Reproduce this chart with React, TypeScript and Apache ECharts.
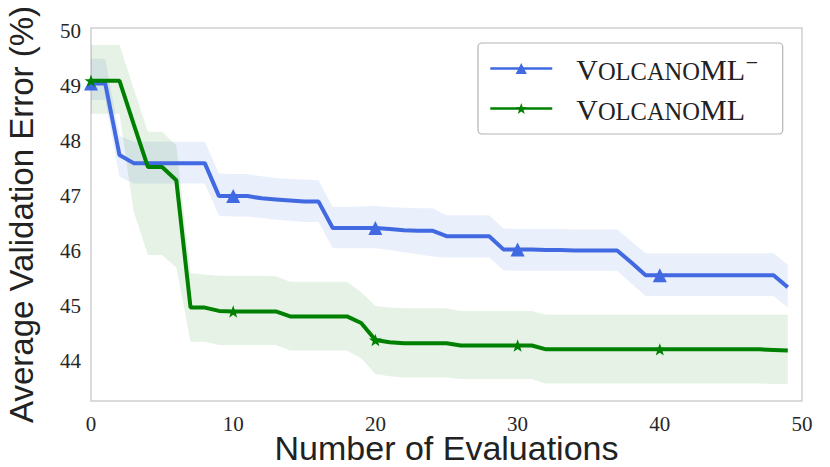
import React, { useEffect, useRef } from "react";
import * as echarts from "echarts";

const evaluations = [
  0, 1, 2, 3, 4, 5, 6, 7, 8, 9, 10, 11, 12, 13, 14, 15, 16, 17, 18, 19, 20, 21, 22, 23, 24,
  25, 26, 27, 28, 29, 30, 31, 32, 33, 34, 35, 36, 37, 38, 39, 40, 41, 42, 43, 44, 45, 46, 47, 48, 49,
];

const blueMean = [
  49.05, 49.05, 47.75, 47.6, 47.6, 47.6, 47.6, 47.6, 47.6, 47.0,
  47.0, 47.0, 46.96, 46.94, 46.92, 46.9, 46.9, 46.42, 46.42, 46.42,
  46.42, 46.4, 46.38, 46.37, 46.37, 46.27, 46.27, 46.27, 46.27, 46.03,
  46.03, 46.03, 46.02, 46.02, 46.01, 46.01, 46.01, 46.01, 45.79, 45.56,
  45.56, 45.56, 45.56, 45.56, 45.56, 45.56, 45.56, 45.56, 45.56, 45.34,
];
const blueUpper = [
  49.5, 49.5, 48.1, 47.99, 47.99, 47.99, 47.99, 47.99, 47.99, 47.41,
  47.4, 47.4, 47.36, 47.33, 47.31, 47.3, 47.29, 46.8, 46.8, 46.81,
  46.82, 46.8, 46.79, 46.78, 46.78, 46.65, 46.65, 46.65, 46.65, 46.41,
  46.4, 46.4, 46.4, 46.4, 46.39, 46.39, 46.39, 46.39, 46.18, 45.96,
  45.96, 45.96, 45.96, 45.96, 45.96, 45.96, 45.96, 45.96, 45.96, 45.75,
];
const blueLower = [
  48.75, 48.75, 47.35, 47.23, 47.23, 47.23, 47.23, 47.23, 47.23, 46.64,
  46.63, 46.63, 46.6, 46.57, 46.55, 46.53, 46.53, 46.05, 46.05, 46.05,
  46.05, 46.02, 45.98, 45.94, 45.9, 45.88, 45.88, 45.88, 45.88, 45.65,
  45.64, 45.64, 45.64, 45.64, 45.64, 45.64, 45.64, 45.64, 45.41, 45.18,
  45.18, 45.18, 45.18, 45.18, 45.18, 45.18, 45.18, 45.18, 45.18, 44.97,
];

const greenMean = [
  49.1, 49.1, 49.1, 48.31, 47.53, 47.53, 47.29, 44.97, 44.97, 44.91,
  44.9, 44.9, 44.9, 44.9, 44.81, 44.81, 44.81, 44.81, 44.81, 44.69,
  44.38, 44.34, 44.32, 44.32, 44.32, 44.32, 44.28, 44.28, 44.28, 44.28,
  44.28, 44.28, 44.21, 44.21, 44.21, 44.21, 44.21, 44.21, 44.21, 44.21,
  44.21, 44.21, 44.21, 44.21, 44.21, 44.21, 44.21, 44.21, 44.2, 44.19,
];
const greenUpper = [
  49.75, 49.75, 49.75, 48.96, 48.17, 48.17, 47.92, 45.6, 45.57, 45.55,
  45.55, 45.55, 45.55, 45.54, 45.44, 45.44, 45.44, 45.44, 45.44, 45.25,
  45.0, 44.97, 44.96, 44.96, 44.96, 44.96, 44.91, 44.91, 44.91, 44.91,
  44.91, 44.91, 44.84, 44.84, 44.84, 44.84, 44.84, 44.84, 44.84, 44.84,
  44.84, 44.84, 44.84, 44.84, 44.84, 44.84, 44.84, 44.84, 44.84, 44.84,
];
const greenLower = [
  48.5, 48.5, 48.5, 46.72, 45.93, 45.93, 45.7, 44.35, 44.35, 44.29,
  44.29, 44.29, 44.29, 44.29, 44.19, 44.19, 44.19, 44.19, 44.19, 44.05,
  43.76, 43.72, 43.7, 43.7, 43.7, 43.7, 43.67, 43.67, 43.67, 43.67,
  43.67, 43.67, 43.59, 43.59, 43.59, 43.59, 43.59, 43.59, 43.59, 43.59,
  43.59, 43.59, 43.59, 43.59, 43.59, 43.59, 43.59, 43.59, 43.58, 43.58,
];

const markerEvery = 10;
const seriesNames = ["VolcanoML⁻", "VolcanoML"];
const xAxisTitle = "Number of Evaluations";
const yAxisTitle = "Average Validation Error (%)";

const BLUE = "#4169e1";
const GREEN = "#008000";
const STAR =
  "path://M0,-10L2.35,-3.24L9.51,-3.09L3.8,1.24L5.88,8.09L0,4L-5.88,8.09L-3.8,1.24L-9.51,-3.09L-2.35,-3.24Z";

function marked(vals: number[]) {
  return evaluations.map((x, i) => ({
    value: [x, vals[i]],
    symbol: i % markerEvery === 0 ? undefined : "none",
  }));
}

function band(id: string, lo: number[], hi: number[], color: string) {
  return {
    name: id,
    type: "custom",
    silent: true,
    z: 1,
    clip: true,
    data: evaluations.map((x, i) => [x, lo[i], hi[i]]),
    encode: { x: 0, y: [1, 2] },
    renderItem: (params: any, api: any) => {
      if (params.dataIndex !== 0) return null;
      const top = evaluations.map((x, i) => api.coord([x, hi[i]]));
      const bottom = evaluations.map((x, i) => api.coord([x, lo[i]])).reverse();
      return {
        type: "polygon",
        shape: { points: top.concat(bottom) },
        style: { fill: color, stroke: "none" },
      };
    },
  };
}

export default function App() {
  const ref = useRef<HTMLDivElement>(null);
  useEffect(() => {
    if (!ref.current) return;
    const chart = echarts.init(ref.current, null, { renderer: "svg" });
    const serif = "'Liberation Serif', 'DejaVu Serif', serif";
    const sans = "'Liberation Sans', Arial, sans-serif";
    const rich = {
      a0: { fontFamily: serif, fontSize: 30, color: "#222", padding: [0, 0, 0, 19], verticalAlign: "bottom", lineHeight: 31 },
      a: { fontFamily: serif, fontSize: 30, color: "#222", verticalAlign: "bottom", lineHeight: 31 },
      b: { fontFamily: serif, fontSize: 24.5, color: "#222", verticalAlign: "bottom", lineHeight: 27.5 },
      c: { fontFamily: serif, fontSize: 26, color: "#222", verticalAlign: "top", lineHeight: 26 },
    };
    chart.setOption({
      animation: false,
      backgroundColor: "#ffffff",
      grid: {
        left: 91,
        right: 28,
        top: 28,
        bottom: 66,
        outerBoundsMode: "none",
        containLabel: false,
        show: true,
        borderColor: "#cfcfcf",
        borderWidth: 1.5,
        backgroundColor: "transparent",
      },
      xAxis: {
        type: "value",
        min: 0,
        max: 50,
        interval: 10,
        axisLine: { show: false },
        axisTick: { show: false },
        splitLine: { show: false },
        axisLabel: { fontFamily: serif, fontSize: 21, color: "#262626", margin: 12 },
        name: xAxisTitle,
        nameLocation: "middle",
        nameGap: 30,
        nameMoveOverlap: false,
        nameTextStyle: { fontFamily: sans, fontSize: 34, lineHeight: 34, color: "#222" },
      },
      yAxis: {
        type: "value",
        min: 43.27,
        max: 50.06,
        splitNumber: 7,
        axisLine: { show: false },
        axisTick: { show: false },
        splitLine: { show: false },
        axisLabel: {
          fontFamily: serif,
          fontSize: 21,
          color: "#262626",
          margin: 10,
          showMinLabel: false,
          showMaxLabel: false,
        },
        name: yAxisTitle,
        nameLocation: "middle",
        nameGap: 53,
        nameTextStyle: { fontFamily: sans, fontSize: 33, color: "#222" },
      },
      legend: {
        data: seriesNames,
        orient: "vertical",
        left: 478,
        top: 43,
        padding: [10, 24, 10, 11],
        itemGap: 10,
        itemWidth: 62,
        itemHeight: 14,
        backgroundColor: "#ffffff",
        borderColor: "#b4b4b4",
        borderWidth: 1.2,
        borderRadius: 4,
        lineStyle: { width: 2.5 },
        formatter: (name: string) =>
          name === seriesNames[0]
            ? "{a0|V}{b|OLCANO}{a|ML}{c|⁻}"
            : "{a0|V}{b|OLCANO}{a|ML}",
        textStyle: { rich },
      },
      series: [
        band("blueBand", blueLower, blueUpper, "rgba(65,105,225,0.11)"),
        band("greenBand", greenLower, greenUpper, "rgba(0,128,0,0.1)"),
        {
          name: seriesNames[0],
          type: "line",
          data: marked(blueMean),
          symbol: "triangle",
          symbolSize: 14,
          color: BLUE,
          itemStyle: { color: BLUE },
          lineStyle: { color: BLUE, width: 4 },
          z: 3,
        },
        {
          name: seriesNames[1],
          type: "line",
          data: marked(greenMean),
          symbol: STAR,
          symbolSize: 13,
          symbolKeepAspect: true,
          color: GREEN,
          itemStyle: { color: GREEN },
          lineStyle: { color: GREEN, width: 4 },
          z: 4,
        },
      ],
    });
    return () => chart.dispose();
  }, []);
  return (
    <div
      ref={ref}
      style={{ position: "absolute", left: 0, top: 0, width: 830, height: 467 }}
    />
  );
}
